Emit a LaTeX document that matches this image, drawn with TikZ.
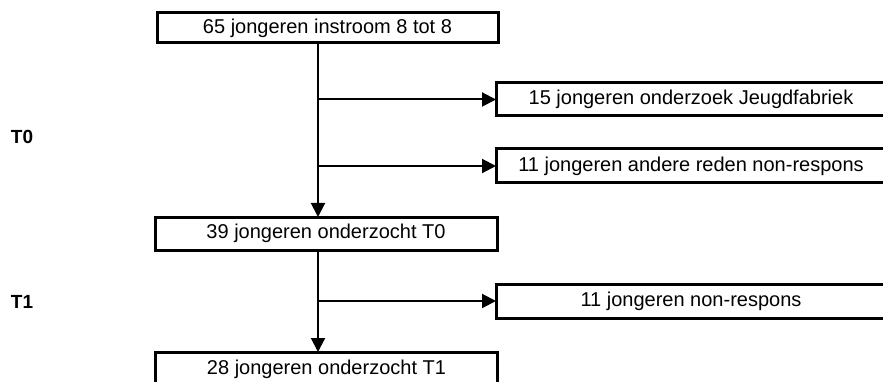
\documentclass[tikz,border=0pt]{standalone}
\usepackage{fontspec}
\setmainfont{Liberation Sans}
\usetikzlibrary{arrows.meta}
\begin{document}
\begin{tikzpicture}[x=1pt,y=-1pt,
  box/.style={draw=black,line width=3pt,rectangle,inner sep=0pt,outer sep=0pt,
    font=\fontsize{20}{23}\selectfont},
  conn/.style={line width=2pt,-{Triangle[length=14pt,width=14pt]}},
  lab/.style={font=\fontsize{19}{22}\selectfont\bfseries,inner sep=0pt}]
\useasboundingbox (0,0) rectangle (883,382);
\node[box,minimum width=341pt,minimum height=30pt] (top) at (327.5,28) {65 jongeren instroom 8 tot 8};
\node[box,minimum width=342pt,minimum height=33pt] (b39) at (326,233.5) {39 jongeren onderzocht T0};
\node[box,minimum width=342pt,minimum height=34pt] (b28) at (326.5,369) {28 jongeren onderzocht T1};
\node[box,minimum width=390pt,minimum height=33pt] (b15) at (691,99.5) {15 jongeren onderzoek Jeugdfabriek};
\node[box,minimum width=390pt,minimum height=34pt] (b11) at (691,166) {11 jongeren andere reden non-respons};
\node[box,minimum width=390pt,minimum height=34pt] (bnr) at (691,301) {11 jongeren non-respons};
\node[lab] (t0) at (22,137) {T0};
\node[lab] (t1) at (22,302) {T1};
\coordinate (s) at (318,0);
\draw[conn] (top.south -| s) -- (b39.north -| s);
\draw[conn] (b15.west -| s) -- (b15.west);
\draw[conn] (b11.west -| s) -- (b11.west);
\draw[conn] (b39.south -| s) -- (b28.north -| s);
\draw[conn] (bnr.west -| s) -- (bnr.west);
\end{tikzpicture}
\end{document}
